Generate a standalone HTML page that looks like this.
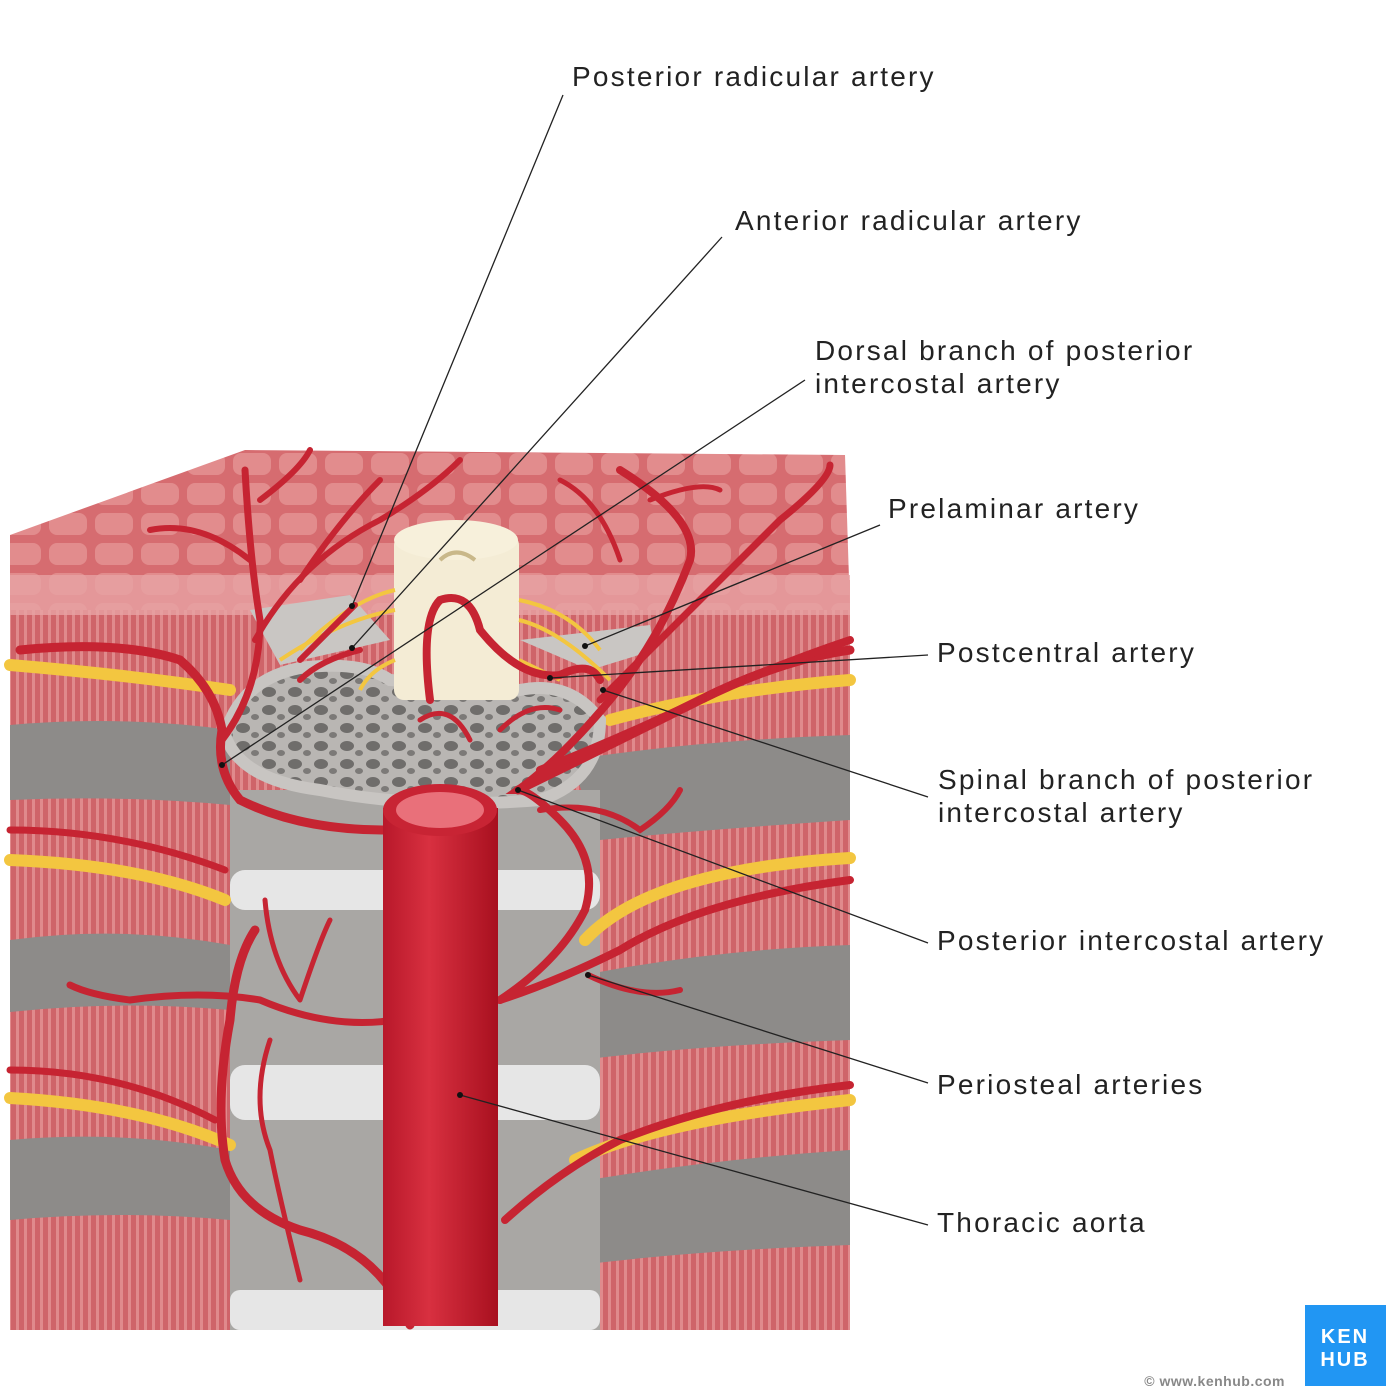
<!DOCTYPE html>
<html><head><meta charset="utf-8"><style>
html,body{margin:0;padding:0;background:#fff;}
svg{display:block;}
text{font-family:"Liberation Sans",sans-serif;font-size:28px;fill:#222;letter-spacing:2.2px;}
</style></head><body>
<svg width="1400" height="1400" viewBox="0 0 1400 1400" xmlns="http://www.w3.org/2000/svg">
<defs>
<pattern id="stripes" width="8" height="40" patternUnits="userSpaceOnUse">
<rect width="8" height="40" fill="#cf6469"/>
<rect x="0" width="3" height="40" fill="#e08a8c"/>
</pattern>
<pattern id="cells" width="46" height="30" patternUnits="userSpaceOnUse">
<rect width="46" height="30" fill="#d66c70"/>
<rect x="3" y="3" width="38" height="22" rx="8" fill="#e28c8d"/>
</pattern>
<pattern id="bone" width="26" height="18" patternUnits="userSpaceOnUse">
<rect width="26" height="18" fill="#b9b6b3"/>
<ellipse cx="9" cy="8" rx="7" ry="5" fill="#6f6d6b"/>
<ellipse cx="21" cy="15" rx="4" ry="3" fill="#7c7a78"/>
</pattern>
<linearGradient id="ao" x1="0" x2="1">
<stop offset="0" stop-color="#b8182a"/><stop offset="0.4" stop-color="#d83040"/><stop offset="1" stop-color="#a8101f"/>
</linearGradient>
</defs>

<rect x="10" y="580" width="840" height="750" fill="url(#stripes)"/>
<g fill="#8d8b89">
<path d="M10 725 Q120 715 230 730 L230 805 Q120 795 10 800Z"/>
<path d="M10 940 Q120 925 230 945 L230 1010 Q120 1000 10 1012Z"/>
<path d="M10 1140 Q120 1130 230 1150 L230 1220 Q120 1210 10 1220Z"/>
<path d="M570 760 Q700 740 850 735 L850 820 Q700 830 600 840Z"/>
<path d="M560 980 Q700 950 850 945 L850 1040 Q700 1045 580 1060Z"/>
<path d="M560 1185 Q700 1160 850 1150 L850 1245 Q700 1250 580 1265Z"/>
</g>
<g fill="#eeeeee">
<path d="M545 800 Q520 860 560 920 L580 910 Q560 860 575 805Z"/>
<path d="M545 1000 Q515 1070 555 1140 L575 1130 Q555 1070 575 1005Z"/>
<path d="M560 1195 Q530 1260 570 1325 L595 1320 Q565 1260 585 1200Z"/>
</g>
<rect x="230" y="790" width="370" height="540" fill="#a9a7a4"/>
<g fill="#e6e6e6">
<rect x="230" y="870" width="370" height="40" rx="15"/>
<rect x="230" y="1065" width="370" height="55" rx="15"/>
<rect x="230" y="1290" width="370" height="40" rx="10"/>
</g>
<g stroke="#f3c640" stroke-width="12" fill="none" stroke-linecap="round">
<path d="M10 665 Q130 675 230 690"/>
<path d="M10 860 Q140 865 225 900"/>
<path d="M10 1098 Q140 1105 230 1145"/>
<path d="M610 720 Q720 690 850 680"/>
<path d="M585 940 Q650 870 850 858"/>
<path d="M575 1160 Q660 1120 850 1100"/>
</g>
<path d="M10 535 L245 450 L845 455 L850 610 L10 610Z" fill="url(#cells)"/>
<rect x="10" y="575" width="840" height="40" fill="#e7a3a4" opacity="0.8"/>
<path d="M250 610 L350 595 L390 640 L280 665Z" fill="#c9c6c3"/>
<path d="M520 640 L650 625 L655 650 L590 670Z" fill="#c9c6c3"/>
<path d="M225 735 Q240 680 300 668 Q360 660 390 680 L520 690 Q570 680 600 720 Q600 780 540 800 Q420 810 320 790 Q240 780 225 735Z" fill="url(#bone)"/>
<path d="M225 735 Q240 680 300 668 Q360 660 390 680 L520 690 Q570 680 600 720 Q600 780 540 800 Q420 810 320 790 Q240 780 225 735Z" fill="none" stroke="#c8c5c2" stroke-width="12"/>
<rect x="394" y="535" width="125" height="165" rx="10" fill="#f4ecd5"/>
<ellipse cx="456" cy="540" rx="62" ry="20" fill="#f7f0db"/>
<path d="M440 560 Q456 545 475 560" stroke="#c9b88a" stroke-width="4" fill="none"/>
<g stroke="#f3c640" stroke-width="4" fill="none">
<path d="M395 590 Q350 600 300 650"/><path d="M395 610 Q340 620 280 660"/>
<path d="M519 600 Q570 610 600 650"/><path d="M519 620 Q560 630 610 680"/>
<path d="M395 660 Q370 670 360 690"/><path d="M519 660 Q540 670 560 680"/>
</g>
<g stroke="#c62432" fill="none" stroke-linecap="round">
<path stroke-width="9" d="M410 1325 Q380 1250 300 1230 Q240 1210 225 1160 Q215 1100 230 1020 Q235 960 255 930"/>
<path stroke-width="9" d="M385 830 Q300 830 240 800 Q215 770 222 730 Q215 690 180 660 Q120 640 20 650"/>
<path stroke-width="7" d="M222 740 Q260 690 260 620 Q250 560 245 470"/>
<path stroke-width="6" d="M255 640 Q300 560 380 520 Q430 490 460 460"/>
<path stroke-width="6" d="M250 560 Q200 520 150 530 M260 500 Q300 470 310 450 M300 580 Q340 520 380 480"/>
<path stroke-width="6" d="M355 605 Q330 630 300 660 M360 650 Q320 660 300 680"/>
<path stroke-width="8" d="M430 700 Q420 620 440 600 Q470 590 480 630 Q520 680 560 675 Q590 660 600 680"/>
<path stroke-width="8" d="M500 1000 Q560 960 585 910 Q600 860 560 820 Q530 790 518 790 Q560 760 610 700 Q660 640 690 560 Q700 520 620 470"/>
<path stroke-width="9" d="M518 790 Q600 750 700 700 Q780 660 850 650"/>
<path stroke-width="8" d="M540 770 Q640 730 720 690 Q790 660 850 640"/>
<path stroke-width="7" d="M600 700 Q700 600 780 520 Q830 480 830 465"/>
<path stroke-width="5" d="M560 480 Q600 500 620 560 M650 500 Q700 480 720 490"/>
<path stroke-width="8" d="M500 1000 Q560 980 620 950 Q700 900 850 880"/>
<path stroke-width="8" d="M505 1220 Q560 1170 620 1140 Q720 1100 850 1085"/>
<path stroke-width="6" d="M588 975 Q640 1000 680 990 M540 810 Q600 800 640 830 Q670 810 680 790"/>
<path stroke-width="7" d="M395 1020 Q330 1030 260 1000 Q200 990 130 1000 Q90 995 70 985"/>
<path stroke-width="5" d="M265 900 Q270 960 300 1000 M300 1000 Q320 940 330 920 M270 1040 Q250 1100 270 1150 Q280 1200 300 1280"/>
<path stroke-width="7" d="M10 1070 Q120 1070 215 1120 M10 830 Q120 830 225 870"/>
<path stroke-width="5" d="M470 740 Q450 700 420 720 M500 730 Q530 700 560 710"/>
</g>
<rect x="383" y="808" width="115" height="518" fill="url(#ao)"/>
<ellipse cx="440" cy="810" rx="57" ry="26" fill="#c82434"/>
<ellipse cx="440" cy="810" rx="44" ry="18" fill="#e9707a"/>

<g stroke="#222" stroke-width="1.3" fill="none">
<line x1="563" y1="95" x2="352" y2="606"/>
<line x1="722" y1="237" x2="352" y2="648"/>
<line x1="805" y1="380" x2="222" y2="765"/>
<line x1="880" y1="525" x2="585" y2="646"/>
<line x1="928" y1="655" x2="550" y2="678"/>
<line x1="928" y1="797" x2="603" y2="690"/>
<line x1="928" y1="943" x2="518" y2="790"/>
<line x1="928" y1="1083" x2="588" y2="975"/>
<line x1="928" y1="1225" x2="460" y2="1095"/>
</g>
<g fill="#111">
<circle cx="352" cy="606" r="3"/><circle cx="352" cy="648" r="3"/><circle cx="222" cy="765" r="3"/>
<circle cx="585" cy="646" r="3"/><circle cx="550" cy="678" r="3"/><circle cx="603" cy="690" r="3"/>
<circle cx="518" cy="790" r="3"/><circle cx="588" cy="975" r="3"/><circle cx="460" cy="1095" r="3"/>
</g>
<text x="572" y="86">Posterior radicular artery</text>
<text x="735" y="230">Anterior radicular artery</text>
<text x="815" y="360">Dorsal branch of posterior</text>
<text x="815" y="393">intercostal artery</text>
<text x="888" y="518">Prelaminar artery</text>
<text x="937" y="662">Postcentral artery</text>
<text x="938" y="789">Spinal branch of posterior</text>
<text x="938" y="822">intercostal artery</text>
<text x="937" y="950">Posterior intercostal artery</text>
<text x="937" y="1094">Periosteal arteries</text>
<text x="937" y="1232">Thoracic aorta</text>
<rect x="1305" y="1305" width="81" height="81" fill="#2196f3"/>
<text x="1345" y="1343" text-anchor="middle" style="font-size:20px;fill:#fff;font-weight:bold;letter-spacing:2px">KEN</text>
<text x="1345" y="1366" text-anchor="middle" style="font-size:20px;fill:#fff;font-weight:bold;letter-spacing:2px">HUB</text>
<text x="1285" y="1386" text-anchor="end" style="font-size:14px;fill:#888;letter-spacing:0.5px;font-weight:bold">© www.kenhub.com</text>
</svg>
</body></html>
